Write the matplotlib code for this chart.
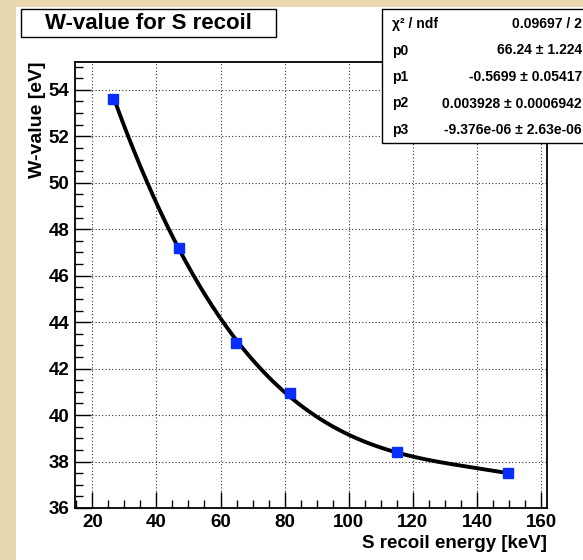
import matplotlib
matplotlib.use("Agg")
import matplotlib.pyplot as plt
import numpy as np
from matplotlib.patches import Rectangle
from matplotlib.ticker import MultipleLocator

# measured points
energy = [26.6, 47.2, 64.7, 81.7, 115.1, 149.7]
wvalue = [53.6, 47.2, 43.1, 40.95, 38.4, 37.5]

# pol3 fit result shown in the stats box
fit_pars = [66.24, -0.5699, 0.003928, -9.376e-06]
stat_names = ["\u03c7\u00b2 / ndf", "p0", "p1", "p2", "p3"]
stat_vals = ["0.09697 / 2", "66.24 \u00b1 1.224", "-0.5699 \u00b1 0.05417",
             "0.003928 \u00b1 0.0006942", "-9.376e-06 \u00b1 2.63e-06"]

plt.rcParams['font.family'] = ['Liberation Sans', 'DejaVu Sans']
plt.rcParams['font.weight'] = 'bold'

W, H = 583, 560
fig = plt.figure(figsize=(W / 100, H / 100), dpi=100, facecolor='#e9d7b0')

# white pad
fig.patches.append(Rectangle((16 / W, 0), 1 - 16 / W, (H - 7) / H,
                             transform=fig.transFigure, facecolor='white',
                             edgecolor='none', zorder=-5))

ax = fig.add_axes([75 / W, (H - 508) / H, 471.5 / W, 446 / H])
ax.set_zorder(1)
ax.set_facecolor('white')

xf = np.linspace(energy[0], energy[-1], 300)
yf = fit_pars[0] + fit_pars[1] * xf + fit_pars[2] * xf**2 + fit_pars[3] * xf**3
ax.plot(xf, yf, color='black', lw=2.8, zorder=3)
ax.plot(energy, wvalue, 's', color='#0a2dff', ms=6.6, mec='#0a2dff', zorder=4)

ax.set_xlim(14.6, 161.7)
ax.set_ylim(36, 55.2)
ax.xaxis.set_major_locator(MultipleLocator(20))
ax.xaxis.set_minor_locator(MultipleLocator(5))
ax.yaxis.set_major_locator(MultipleLocator(2))
ax.yaxis.set_minor_locator(MultipleLocator(0.5))

ax.grid(True, which='major', color='#333333', linestyle=(0, (1, 2)), lw=0.8)
ax.set_axisbelow(True)

ax.tick_params(which='major', direction='in', length=11.5, width=1.0,
               labelsize=13.5, pad=4, top=False, right=False)
ax.tick_params(which='minor', direction='in', length=5.8, width=1.0,
               top=False, right=False)
for lab in ax.get_xticklabels() + ax.get_yticklabels():
    lab.set_fontweight('bold')
for s in ax.spines.values():
    s.set_linewidth(1.3)
    s.set_color('black')

ax.set_xlabel('S recoil energy [keV]', fontsize=13.5, fontweight='bold',
              loc='right', labelpad=3)
ax.set_ylabel('W-value [eV]', fontsize=14, fontweight='bold',
              loc='top', labelpad=2)

# title box
fig.patches.append(Rectangle((21 / W, 1 - 37.3 / H), 255 / W, 28 / H,
                             transform=fig.transFigure, facecolor='white',
                             edgecolor='black', lw=1.0, zorder=5))
fig.text(148.5 / W, 1 - 23.5 / H, 'W-value for S recoil', ha='center',
         va='center', fontsize=16, fontweight='bold', zorder=6)

# stats box, drawn above the axes
sbox = Rectangle((382 / W, 1 - 143 / H), 220 / W, 134 / H,
                 transform=fig.transFigure, facecolor='white',
                 edgecolor='black', lw=1.0, zorder=5)
fig.patches.append(sbox)
for i, (nm, v) in enumerate(zip(stat_names, stat_vals)):
    yy = 1 - (24 + 26.5 * i) / H
    fig.text(392 / W, yy, nm, ha='left', va='center', fontsize=10,
             fontweight='bold', zorder=6)
    fig.text(582 / W, yy, v, ha='right', va='center', fontsize=10,
             fontweight='bold', zorder=6)

fig.savefig('out.png', dpi=100, facecolor=fig.get_facecolor())
